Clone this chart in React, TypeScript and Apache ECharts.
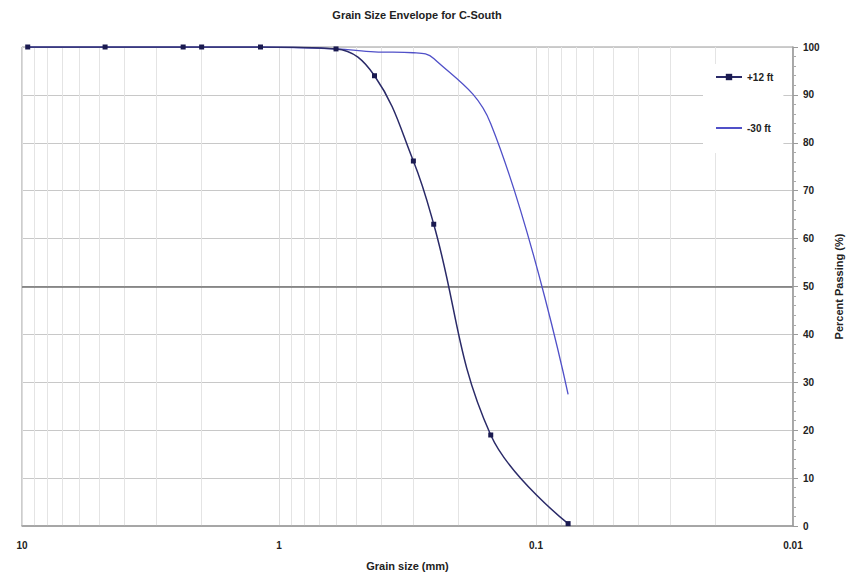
import React, { useEffect, useRef } from "react";
import * as echarts from "echarts";

const sieveSizes = [9.5, 4.75, 2.36, 2.0, 1.18, 0.6, 0.425, 0.3, 0.25, 0.15, 0.075];
const passingPlus12 = [100, 100, 100, 100, 100, 99.6, 94, 76.2, 63, 19, 0.5];
const passingMinus30 = [100, 100, 100, 100, 100, 99.6, 99, 98.8, 97.6, 84, 27.5];
const minorGridValues = [2, 3, 4, 5, 6, 7, 8, 9, 0.2, 0.3, 0.4, 0.5, 0.6, 0.7, 0.8, 0.9, 0.02, 0.03, 0.04, 0.05, 0.06, 0.07, 0.08, 0.09];
const seriesNames = ["+12 ft", "-30 ft"];

const FONT = "'Liberation Sans', Arial, sans-serif";

export default function App() {
  const ref = useRef<HTMLDivElement>(null);
  useEffect(() => {
    if (!ref.current) return;
    const chart = echarts.init(ref.current, null, { renderer: "svg" });
    const d1 = sieveSizes.map((s, i) => [s, passingPlus12[i]]);
    const d2 = sieveSizes.map((s, i) => [s, passingMinus30[i]]);
    chart.setOption({
      animation: false,
      backgroundColor: "#fff",
      textStyle: { fontFamily: FONT },
      title: {
        text: "Grain Size Envelope for C-South",
        left: 412,
        textAlign: "center",
        top: 4,
        textStyle: { fontFamily: FONT, fontSize: 11, fontWeight: "bold", color: "#222" },
      },
      grid: {
        left: 22,
        right: 55,
        top: 47,
        bottom: 50,
        show: true,
        borderColor: "#9a9a9a",
        borderWidth: 1,
      },
      legend: {
        orient: "vertical",
        left: 703,
        top: 64,
        padding: [8, 10, 20, 12],
        backgroundColor: "#fff",
        itemGap: 41,
        itemWidth: 26,
        itemHeight: 8,
        data: [
          { name: seriesNames[0] },
          { name: seriesNames[1], itemStyle: { opacity: 0 } },
        ],
        textStyle: { fontFamily: FONT, fontSize: 10, fontWeight: "bold", color: "#222" },
      },
      xAxis: {
        type: "log",
        logBase: 10,
        inverse: true,
        min: 0.01,
        max: 10,
        name: "Grain size (mm)",
        nameLocation: "middle",
        nameGap: 34,
        nameTextStyle: { fontFamily: FONT, fontSize: 11, fontWeight: "bold", color: "#222" },
        axisLine: { show: true, lineStyle: { color: "#9a9a9a", width: 1.5 } },
        axisTick: { show: false },
        axisLabel: {
          margin: 14,
          fontFamily: FONT,
          fontSize: 10,
          fontWeight: "bold",
          color: "#222",
          formatter: (v: number) => String(Number(v.toPrecision(1))),
        },
        splitLine: { show: true, lineStyle: { color: "#dcdcdc", width: 1 } },
      },
      yAxis: {
        type: "value",
        position: "right",
        min: 0,
        max: 100,
        interval: 10,
        name: "Percent Passing (%)",
        nameLocation: "middle",
        nameGap: 40,
        nameRotate: 90,
        nameTextStyle: { fontFamily: FONT, fontSize: 11, fontWeight: "bold", color: "#222" },
        axisLine: { show: true, lineStyle: { color: "#9a9a9a", width: 1.5 } },
        axisTick: { show: true, length: 5, lineStyle: { color: "#9a9a9a" } },
        minorTick: { show: true, splitNumber: 5, length: 3, lineStyle: { color: "#aaa" } },
        axisLabel: { margin: 10, fontFamily: FONT, fontSize: 10, fontWeight: "bold", color: "#222" },
        splitLine: { show: true, lineStyle: { color: "#c8c8c8", width: 1.2 } },
      },
      series: [
        {
          name: "grid",
          type: "line",
          data: [],
          silent: true,
          z: 0,
          markLine: {
            silent: true,
            z: 0,
            symbol: ["none", "none"],
            label: { show: false },
            emphasis: { disabled: true },
            lineStyle: { color: "#e4e4e4", type: "solid", width: 1 },
            data: minorGridValues.map((v) => ({ xAxis: v })),
          },
        },
        {
          name: "grid50",
          type: "line",
          data: [],
          silent: true,
          z: 0,
          markLine: {
            silent: true,
            z: 0,
            symbol: ["none", "none"],
            label: { show: false },
            emphasis: { disabled: true },
            lineStyle: { color: "#707070", type: "solid", width: 1.5 },
            data: [{ yAxis: 50 }],
          },
        },
        {
          name: seriesNames[1],
          type: "line",
          data: d2,
          smooth: 0.4,
          symbol: "none",
          z: 5,
          lineStyle: { color: "#5050c8", width: 1.3 },
          itemStyle: { color: "#5050c8" },
        },
        {
          name: seriesNames[0],
          type: "line",
          data: d1,
          smooth: 0.4,
          symbol: "rect",
          symbolSize: 5,
          z: 6,
          lineStyle: { color: "#2a2a68", width: 1.5 },
          itemStyle: { color: "#1a1a50" },
        },
      ],
    });
    return () => chart.dispose();
  }, []);
  return <div ref={ref} style={{ width: 852, height: 576, position: "absolute", left: 0, top: 0 }} />;
}
